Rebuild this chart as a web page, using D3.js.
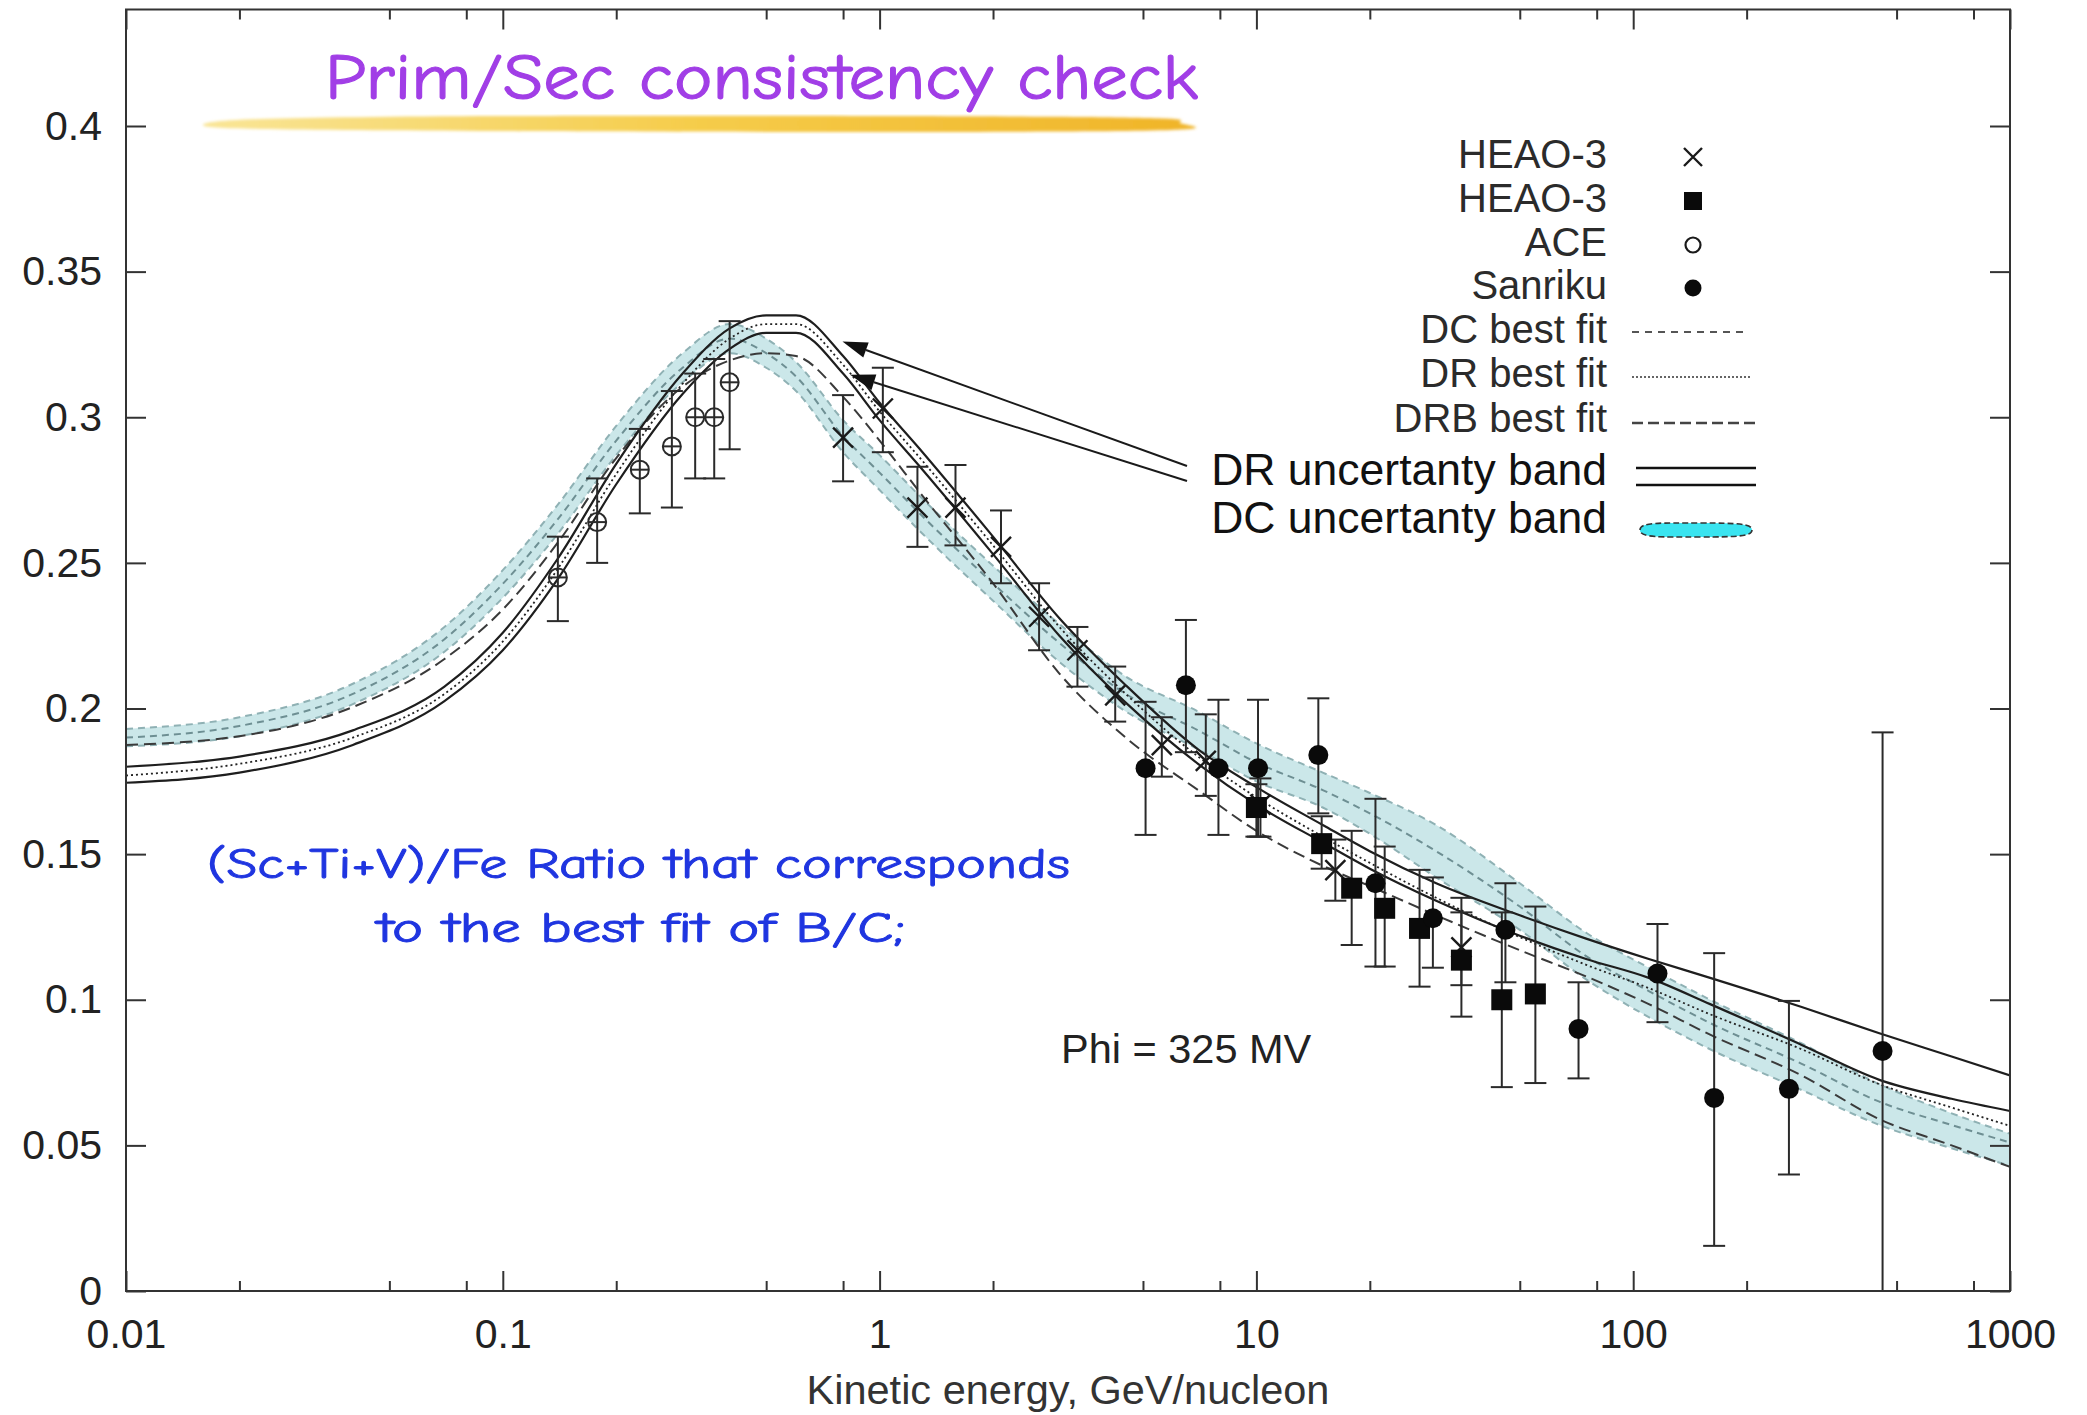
<!DOCTYPE html>
<html><head><meta charset="utf-8">
<script src="https://cdn.jsdelivr.net/npm/d3@7"></script>
<style>body{margin:0;background:#fff;} svg{display:block;}</style>
</head><body><svg id="c" width="2087" height="1415"></svg>
<script>
// ---------- data ----------
const curveE   = [0.01,0.02,0.04,0.07,0.1,0.14,0.2,0.3,0.4,0.5,0.6,0.8,1,1.3,2,3,4.5,7,10,15,20,30,50,75,110,160,280,450,700,1000];
const dcBandHi = [0.193,0.197,0.2085,0.228,0.2475,0.270,0.297,0.322,0.332,0.327,0.319,0.299,0.287,0.272,0.249,0.229,0.211,0.199,0.188,0.178,0.171,0.160,0.140,0.123,0.111,0.100,0.085,0.071,0.061,0.054];
const dcBandLo = [0.187,0.1905,0.2015,0.2195,0.238,0.260,0.287,0.312,0.322,0.317,0.309,0.288,0.275,0.260,0.237,0.216,0.199,0.186,0.175,0.166,0.157,0.142,0.124,0.107,0.094,0.083,0.069,0.057,0.049,0.043];
const dcFit    = [0.190,0.194,0.205,0.2238,0.2428,0.265,0.292,0.317,0.327,0.322,0.314,0.2935,0.281,0.266,0.243,0.2225,0.205,0.1925,0.1815,0.172,0.164,0.151,0.132,0.115,0.103,0.092,0.078,0.065,0.057,0.051];
const drHi     = [0.180,0.1835,0.1925,0.2075,0.226,0.2515,0.284,0.315,0.3305,0.335,0.335,0.321,0.305,0.288,0.259,0.231,0.208,0.186,0.173,0.160,0.151,0.140,0.129,0.121,0.114,0.1075,0.0975,0.0885,0.0805,0.0740];
const drLo     = [0.1745,0.178,0.1875,0.2025,0.220,0.2445,0.277,0.308,0.3235,0.329,0.329,0.315,0.299,0.282,0.253,0.225,0.202,0.181,0.167,0.154,0.145,0.134,0.122,0.114,0.1075,0.0985,0.0845,0.0725,0.066,0.0618];
const drFit    = [0.177,0.181,0.190,0.205,0.223,0.248,0.2805,0.3115,0.327,0.332,0.332,0.318,0.302,0.285,0.256,0.228,0.205,0.1835,0.1695,0.156,0.147,0.135,0.1215,0.112,0.104,0.095,0.083,0.071,0.063,0.0567];
const drbFit   = [0.1875,0.1905,0.2005,0.217,0.234,0.257,0.286,0.3105,0.3195,0.322,0.321,0.307,0.292,0.273,0.243,0.212,0.190,0.172,0.158,0.146,0.139,0.129,0.117,0.108,0.0985,0.088,0.074,0.059,0.050,0.0426];

const aceE  = [0.14,0.178,0.231,0.281,0.324,0.364,0.40];
const aceV  = [0.245,0.264,0.282,0.290,0.300,0.300,0.312];
const aceLo = [0.230,0.250,0.267,0.269,0.279,0.279,0.289];
const aceHi = [0.259,0.279,0.296,0.309,0.315,0.320,0.333];

const heaoXE  = [0.80,1.02,1.26,1.59,2.1,2.65,3.35,4.22,5.61,7.34,10.25,16.2,35];
const heaoXV  = [0.293,0.303,0.269,0.269,0.2555,0.2315,0.220,0.2045,0.1874,0.182,0.167,0.1445,0.118];
const heaoXLo = [0.278,0.288,0.2555,0.256,0.243,0.220,0.2075,0.1955,0.1766,0.170,0.156,0.134,0.105];
const heaoXHi = [0.3076,0.317,0.283,0.2836,0.268,0.243,0.228,0.2144,0.197,0.198,0.176,0.155,0.135];

const heaoSqE  = [10.0,14.9,17.9,21.9,27.1,35,44.8,55];
const heaoSqV  = [0.166,0.1536,0.1383,0.1314,0.1245,0.1136,0.100,0.102];
const heaoSqLo = [0.156,0.145,0.1188,0.1114,0.1045,0.0942,0.070,0.0714];
const heaoSqHi = [0.174,0.163,0.158,0.1526,0.1446,0.130,0.130,0.132];

const sanE  = [5.08,6.5,7.93,10.1,14.6,20.7,29.4,45.8,71.6,116,164,259,459];
const sanV  = [0.1795,0.208,0.1795,0.1795,0.184,0.140,0.128,0.124,0.090,0.109,0.0663,0.0694,0.0824];
const sanLo = [0.1566,0.185,0.1566,0.156,0.164,0.1114,0.111,0.106,0.073,0.0923,0.0155,0.040,0];
const sanHi = [0.2023,0.2304,0.203,0.203,0.2035,0.169,0.142,0.140,0.106,0.126,0.116,0.0996,0.1918];

const yTicks = [0,0.05,0.1,0.15,0.2,0.25,0.3,0.35,0.4];
const yTickLabels = ["0","0.05","0.1","0.15","0.2","0.25","0.3","0.35","0.4"];
const xTicks = [0.01,0.1,1,10,100,1000];
const xTickLabels = ["0.01","0.1","1","10","100","1000"];
const legendLabels = ["HEAO-3","HEAO-3","ACE","Sanriku","DC best fit","DR best fit","DRB best fit","DR uncertanty band","DC uncertanty band"];
const arrowTips = [[0.797,0.326],[0.835,0.3146]];

// ---------- setup ----------
const svg = d3.select("#c");
const L=126, R=2010, T=9.5, B=1291;
const x = d3.scaleLog().domain([0.01,1000]).range([L,R]);
const y = d3.scaleLinear().domain([0,0.44]).range([B,T]);
const FONT = "'Liberation Sans', Arial, Helvetica, sans-serif";
const COMIC = "'Comic Sans MS','Comic Neue','Open Sans',sans-serif";

const defs = svg.append("defs");
defs.append("clipPath").attr("id","clip").append("rect").attr("x",L).attr("y",T).attr("width",R-L).attr("height",B-T);
const grad = defs.append("linearGradient").attr("id","hl").attr("x1","0").attr("x2","1");
grad.append("stop").attr("offset","0").attr("stop-color","#f9e596");
grad.append("stop").attr("offset","0.5").attr("stop-color","#f5cc4a");
grad.append("stop").attr("offset","1").attr("stop-color","#f0b428");
defs.append("filter").attr("id","soft").append("feGaussianBlur").attr("stdDeviation",1.6);

// title + highlighter
const hl = [[203,125],[260,119],[500,116],[900,116],[1150,118],[1180,123],[1172,130],[900,132],[500,131],[260,129]];
svg.append("path").attr("d", d3.line().curve(d3.curveCardinalClosed)(hl))
  .attr("fill","url(#hl)").attr("filter","url(#soft)");
svg.append("text").attr("x",325).attr("y",99).attr("font-family",COMIC).attr("font-size",64)
  .attr("fill","#a13ee6").attr("stroke","#a13ee6").attr("stroke-width",1.2)
  .attr("textLength",873).attr("lengthAdjust","spacingAndGlyphs")
  .text("Prim/Sec consistency check");

const plot = svg.append("g").attr("clip-path","url(#clip)");

function pts(arr){ return curveE.map((e,i)=>[e,arr[i]]); }
const line = d3.line().x(d=>x(d[0])).y(d=>y(d[1])).curve(d3.curveMonotoneX);
const area = d3.area().x(d=>x(d[0])).y0(d=>y(d[1])).y1(d=>y(d[2])).curve(d3.curveMonotoneX);

// DC band
plot.append("path").attr("d", area(curveE.map((e,i)=>[e,dcBandLo[i],dcBandHi[i]])))
  .attr("fill","#c8e6e8").attr("opacity",0.95);
[dcBandHi, dcBandLo].forEach(a=>plot.append("path").attr("d",line(pts(a)))
  .attr("fill","none").attr("stroke","#8fb1b4").attr("stroke-width",2).attr("stroke-dasharray","7,5"));
plot.append("path").attr("d",line(pts(dcFit))).attr("fill","none").attr("stroke","#6e8f93")
  .attr("stroke-width",2).attr("stroke-dasharray","7,5");
// DRB
plot.append("path").attr("d",line(pts(drbFit))).attr("fill","none").attr("stroke","#3a3a3a")
  .attr("stroke-width",2).attr("stroke-dasharray","12,6");
// DR fit dotted
plot.append("path").attr("d",line(pts(drFit))).attr("fill","none").attr("stroke","#222")
  .attr("stroke-width",1.8).attr("stroke-dasharray","2,3");
// DR band solid
[drHi, drLo].forEach(a=>plot.append("path").attr("d",line(pts(a)))
  .attr("fill","none").attr("stroke","#1e1e1e").attr("stroke-width",2.2));

// error bars
const eb = svg.append("g").attr("clip-path","url(#clip)").attr("stroke","#2a2a2a").attr("stroke-width",2);
function errBars(E,V,Lo,Hi){
  E.forEach((e,i)=>{
    const cx=x(e);
    eb.append("line").attr("x1",cx).attr("x2",cx).attr("y1",y(Lo[i])).attr("y2",y(Hi[i]));
    eb.append("line").attr("x1",cx-11).attr("x2",cx+11).attr("y1",y(Lo[i])).attr("y2",y(Lo[i]));
    eb.append("line").attr("x1",cx-11).attr("x2",cx+11).attr("y1",y(Hi[i])).attr("y2",y(Hi[i]));
  });
}
errBars(aceE,aceV,aceLo,aceHi);
errBars(heaoXE,heaoXV,heaoXLo,heaoXHi);
errBars(heaoSqE,heaoSqV,heaoSqLo,heaoSqHi);
errBars(sanE,sanV,sanLo,sanHi);

const mk = svg.append("g");
// ACE
aceE.forEach((e,i)=>{
  const cx=x(e), cy=y(aceV[i]);
  mk.append("circle").attr("cx",cx).attr("cy",cy).attr("r",9).attr("fill","none").attr("stroke","#2a2a2a").attr("stroke-width",2);
  mk.append("line").attr("x1",cx-9).attr("x2",cx+9).attr("y1",cy).attr("y2",cy).attr("stroke","#2a2a2a").attr("stroke-width",2);
});
// HEAO x
heaoXE.forEach((e,i)=>{
  const cx=x(e), cy=y(heaoXV[i]), s=10;
  mk.append("path").attr("d",`M${cx-s},${cy-s}L${cx+s},${cy+s}M${cx-s},${cy+s}L${cx+s},${cy-s}`)
    .attr("stroke","#1a1a1a").attr("stroke-width",2.4);
});
// HEAO squares
heaoSqE.forEach((e,i)=>{
  const cx=x(e), cy=y(heaoSqV[i]);
  mk.append("rect").attr("x",cx-10.5).attr("y",cy-10.5).attr("width",21).attr("height",21).attr("fill","#0a0a0a");
});
// Sanriku
sanE.forEach((e,i)=>{
  mk.append("circle").attr("cx",x(e)).attr("cy",y(sanV[i])).attr("r",10).attr("fill","#0a0a0a");
});

// ---------- axes ----------
const axStyle = g => { g.select(".domain").remove(); g.selectAll(".tick line").attr("stroke","#333").attr("stroke-width",2);
  g.selectAll("text").attr("font-family",FONT).attr("font-size",41).attr("fill","#222"); };
const minor = [];
[0.01,0.1,1,10,100].forEach(d=>[2,5,8].forEach(k=>minor.push(d*k)));
svg.append("g").attr("transform",`translate(0,${B})`)
  .call(d3.axisBottom(x).tickValues(xTicks).tickSize(-20).tickPadding(28).tickFormat((d,i)=>xTickLabels[i])).call(axStyle);
svg.append("g").attr("transform",`translate(0,${B})`)
  .call(d3.axisBottom(x).tickValues(minor).tickSize(-10).tickFormat("")).call(axStyle);
svg.append("g").attr("transform",`translate(0,${T})`)
  .call(d3.axisTop(x).tickValues(xTicks).tickSize(-20).tickFormat("")).call(axStyle);
svg.append("g").attr("transform",`translate(0,${T})`)
  .call(d3.axisTop(x).tickValues(minor).tickSize(-10).tickFormat("")).call(axStyle);
svg.append("g").attr("transform",`translate(${L},0)`)
  .call(d3.axisLeft(y).tickValues(yTicks).tickSize(-20).tickPadding(24).tickFormat((d,i)=>yTickLabels[i])).call(axStyle);
svg.append("g").attr("transform",`translate(${R},0)`)
  .call(d3.axisRight(y).tickValues(yTicks).tickSize(-20).tickFormat("")).call(axStyle);
svg.append("rect").attr("x",L).attr("y",T).attr("width",R-L).attr("height",B-T)
  .attr("fill","none").attr("stroke","#333").attr("stroke-width",2);

svg.append("text").attr("x",1068).attr("y",1404).attr("text-anchor","middle").attr("font-family",FONT)
  .attr("font-size",41.5).attr("fill","#333").text("Kinetic energy, GeV/nucleon");

// ---------- annotations ----------
svg.append("text").attr("x",1061).attr("y",1063).attr("font-family",FONT).attr("font-size",41.5)
  .attr("fill","#222").text("Phi = 325 MV");
svg.append("text").attr("x",207).attr("y",878).attr("font-family",COMIC).attr("font-size",42)
  .attr("fill","#1f35e0").attr("stroke","#1f35e0").attr("stroke-width",0.9)
  .attr("textLength",863).attr("lengthAdjust","spacingAndGlyphs")
  .text("(Sc+Ti+V)/Fe Ratio that corresponds");
svg.append("text").attr("x",377).attr("y",942).attr("font-family",COMIC).attr("font-size",42)
  .attr("fill","#1f35e0").attr("stroke","#1f35e0").attr("stroke-width",0.9)
  .attr("textLength",528).attr("lengthAdjust","spacingAndGlyphs")
  .text("to the best fit of B/C;");

// arrows
const tails = [[1187,466],[1187,481]];
arrowTips.forEach((t,i)=>{
  const tx=x(t[0]), ty=y(t[1]), [sx,sy]=tails[i];
  const ang=Math.atan2(ty-sy,tx-sx), len=25, hw=8;
  const bx=tx-len*Math.cos(ang), by=ty-len*Math.sin(ang);
  svg.append("line").attr("x1",sx).attr("y1",sy).attr("x2",bx).attr("y2",by).attr("stroke","#1a1a1a").attr("stroke-width",2);
  svg.append("path").attr("d",`M${tx},${ty}L${bx+hw*Math.sin(ang)},${by-hw*Math.cos(ang)}L${bx-hw*Math.sin(ang)},${by+hw*Math.cos(ang)}Z`).attr("fill","#111");
});

// ---------- legend ----------
const lgBase = [168,212,256,299,343,387,432,485,533];
const lg = svg.append("g");
legendLabels.forEach((t,i)=>{
  lg.append("text").attr("x",1607).attr("y",lgBase[i]).attr("text-anchor","end").attr("font-family",FONT)
    .attr("font-size", i>=7?44.5:40).attr("fill", i>=7?"#111":"#2b2b2b").text(t);
});
const sx=1693;
lg.append("path").attr("d",`M${sx-9},${148}L${sx+9},${166}M${sx-9},${166}L${sx+9},${148}`).attr("stroke","#1a1a1a").attr("stroke-width",2.4);
lg.append("rect").attr("x",sx-9).attr("y",192).attr("width",18).attr("height",18).attr("fill","#0a0a0a");
lg.append("circle").attr("cx",sx).attr("cy",245).attr("r",7.5).attr("fill","none").attr("stroke","#1a1a1a").attr("stroke-width",2.2);
lg.append("circle").attr("cx",sx).attr("cy",288).attr("r",8.5).attr("fill","#0a0a0a");
lg.append("line").attr("x1",1632).attr("x2",1746).attr("y1",332).attr("y2",332).attr("stroke","#555").attr("stroke-width",2).attr("stroke-dasharray","7,6");
lg.append("line").attr("x1",1632).attr("x2",1752).attr("y1",377).attr("y2",377).attr("stroke","#333").attr("stroke-width",1.5).attr("stroke-dasharray","2,2");
lg.append("line").attr("x1",1632).attr("x2",1756).attr("y1",423).attr("y2",423).attr("stroke","#444").attr("stroke-width",2.4).attr("stroke-dasharray","11,5");
[468,485].forEach(yy=>lg.append("line").attr("x1",1636).attr("x2",1756).attr("y1",yy).attr("y2",yy).attr("stroke","#111").attr("stroke-width",2.5));
lg.append("path").attr("d","M1640,530 C1640,522 1660,523 1700,523 C1740,523 1752,524 1752,530 C1752,536 1740,537 1700,537 C1660,537 1640,538 1640,530 Z")
  .attr("fill","#3ae4f0").attr("stroke","#333").attr("stroke-width",1.6).attr("stroke-dasharray","6,3");
</script>
</body></html>
